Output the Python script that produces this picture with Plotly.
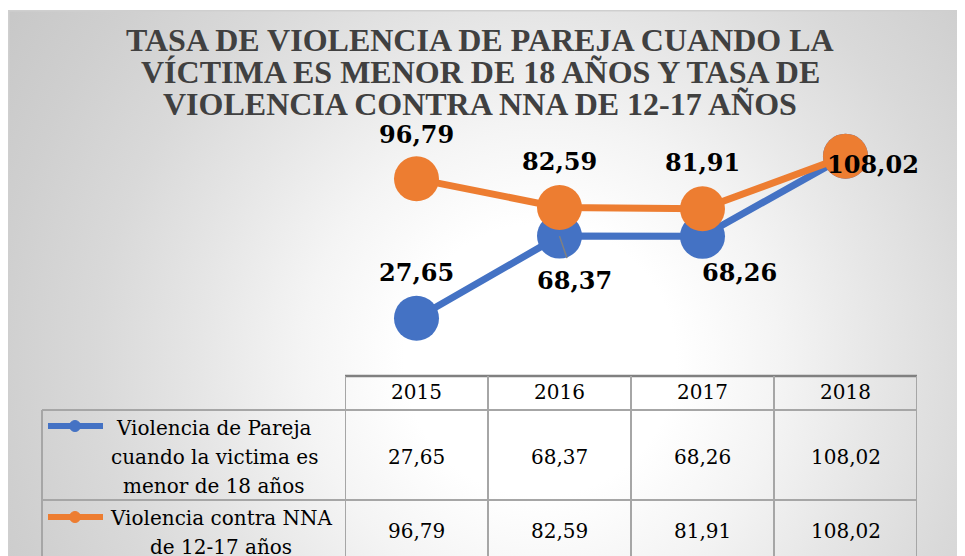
import base64
import plotly.graph_objects as go

# ---------------- data ----------------
years = ["2015", "2016", "2017", "2018"]
pareja = [27.65, 68.37, 68.26, 108.02]
nna = [96.79, 82.59, 81.91, 108.02]
series_names = [
    "Violencia de Pareja cuando la victima es menor de 18 años",
    "Violencia contra NNA de 12-17 años",
]
legend_lines = [
    ["Violencia de Pareja", "cuando la victima es", "menor de 18 años"],
    ["Violencia contra NNA", "de 12-17 años"],
]
title_lines = [
    "TASA DE VIOLENCIA DE PAREJA CUANDO LA",
    "VÍCTIMA ES MENOR DE 18 AÑOS Y TASA DE",
    "VIOLENCIA CONTRA NNA DE 12-17 AÑOS",
]

# ---------------- style ----------------
W, H = 965, 556
OX, OY = 8, 8          # page body margin offset
BLUE = "#4472C4"
ORANGE = "#ED7D31"
GRID = "#a6a6a6"
SERIF = "DejaVu Serif"

# label offsets (px) per point: (xshift, yshift) ; None = hidden
off_pareja = [(0, 46), (15, -44), (37, -36), None]
off_nna = [(0, 44), (0, 46), (0, 46), (27, -8)]


def px(x):
    return (x - OX) / W


def py(y):
    return 1 - (y - OY) / H


def fmt(v):
    return f"{v:.2f}".replace(".", ",")


idx = list(range(len(years)))

# ---------------- background gradient (svg) ----------------
svg = f'''<svg xmlns="http://www.w3.org/2000/svg" width="{W}" height="{H}" viewBox="0 0 {W} {H}">
<defs><radialGradient id="g" gradientUnits="userSpaceOnUse" cx="{540 - OX}" cy="{360 - OY}" r="680">
<stop offset="0" stop-color="#ffffff"/>
<stop offset="0.2" stop-color="#ffffff"/>
<stop offset="0.35" stop-color="#f4f4f4"/>
<stop offset="0.5" stop-color="#e6e6e6"/>
<stop offset="0.65" stop-color="#d9d9d9"/>
<stop offset="0.8" stop-color="#cfcfcf"/>
<stop offset="1" stop-color="#c4c4c4"/>
</radialGradient></defs>
<rect x="0" y="0" width="{W}" height="{H}" fill="#ffffff"/>
<rect x="0.75" y="2.75" width="{W + 20}" height="{H + 20}" fill="url(#g)" stroke="#cfcfcf" stroke-width="1.5"/>
</svg>'''
src = "data:image/svg+xml;base64," + base64.b64encode(svg.encode("utf-8")).decode("ascii")

fig = go.Figure()

fig.add_trace(go.Scatter(
    x=idx, y=pareja, mode="lines+markers", name=series_names[0],
    line=dict(color=BLUE, width=7), marker=dict(color=BLUE, size=45),
    cliponaxis=False, hoverinfo="skip",
))
fig.add_trace(go.Scatter(
    x=idx, y=nna, mode="lines+markers", name=series_names[1],
    line=dict(color=ORANGE, width=7), marker=dict(color=ORANGE, size=45),
    cliponaxis=False, hoverinfo="skip",
))

annotations = []
shapes = []

# title
for i, t in enumerate(title_lines):
    annotations.append(dict(
        text=t, x=px(480), y=py(40 + 32 * i), xref="paper", yref="paper",
        xanchor="center", yanchor="middle", showarrow=False, borderpad=0,
        font=dict(family="Liberation Serif", size=32, color="#404040", weight="bold"),
    ))

# data labels
label_font = dict(family=SERIF, size=24, color="#000000", weight="bold")
for k, (vals, offs) in enumerate(((pareja, off_pareja), (nna, off_nna))):
    for i, (v, o) in enumerate(zip(vals, offs)):
        if o is None:
            continue
        if k == 0 and i == 1:
            annotations.append(dict(
                text=fmt(v), x=i, y=v, xref="x", yref="y",
                xanchor="center", yanchor="middle",
                showarrow=True, arrowhead=0, arrowwidth=1.5, arrowcolor="#808080",
                ax=o[0], ay=-o[1], borderpad=7, font=label_font,
            ))
        else:
            annotations.append(dict(
                text=fmt(v), x=i, y=v, xref="x", yref="y", showarrow=False,
                xanchor="center", yanchor="middle",
                xshift=o[0], yshift=o[1], font=label_font,
            ))

# ---------------- data table ----------------
TOP, HDR, R1, BOT = 376, 410, 500, 570
LEFT = 42
line_gray = dict(color=GRID, width=2)

shapes.append(dict(type="line", xref="x", yref="paper", x0=-0.5, x1=len(years) - 0.5,
                   y0=py(TOP), y1=py(TOP), line=dict(color="#808080", width=2.5)))
for yy in (HDR, R1):
    shapes.append(dict(type="line", xref="paper", yref="paper", x0=px(LEFT), x1=px(917),
                       y0=py(yy), y1=py(yy), line=line_gray))
for i in range(len(years) + 1):
    shapes.append(dict(type="line", xref="x", yref="paper", x0=i - 0.5, x1=i - 0.5,
                       y0=py(TOP), y1=py(BOT), line=line_gray))
shapes.append(dict(type="line", xref="paper", yref="paper", x0=px(LEFT), x1=px(LEFT),
                   y0=py(HDR), y1=py(BOT), line=line_gray))

cell_font = dict(family=SERIF, size=20, color="#000000")
for i, yr in enumerate(years):
    annotations.append(dict(text=yr, x=i, y=py(392), xref="x", yref="paper",
                            xanchor="center", yanchor="middle",
                            showarrow=False, font=cell_font))
for vals, yc in ((pareja, 457), (nna, 531)):
    for i, v in enumerate(vals):
        annotations.append(dict(text=fmt(v), x=i, y=py(yc), xref="x", yref="paper",
                                xanchor="center", yanchor="middle",
                                showarrow=False, font=cell_font))

# legend keys inside the table
for color, yk, lines, ystart, xc in ((BLUE, 426, legend_lines[0], 428, 214),
                                    (ORANGE, 517, legend_lines[1], 518, 221)):
    shapes.append(dict(type="line", xref="paper", yref="paper", x0=px(48), x1=px(103),
                       y0=py(yk), y1=py(yk), line=dict(color=color, width=6)))
    r = 5.5
    shapes.append(dict(type="circle", xref="paper", yref="paper",
                       x0=px(75 - r), x1=px(75 + r), y0=py(yk - r), y1=py(yk + r),
                       fillcolor=color, line=dict(color=color, width=1)))
    for j, t in enumerate(lines):
        annotations.append(dict(text=t, x=px(xc), y=py(ystart + 29 * j), xref="paper",
                                yref="paper", xanchor="center", yanchor="middle",
                                showarrow=False, font=cell_font))

fig.update_layout(
    width=W, height=H, autosize=False,
    margin=dict(l=0, r=0, t=0, b=0, pad=0),
    paper_bgcolor="#ffffff", plot_bgcolor="rgba(0,0,0,0)",
    showlegend=False,
    xaxis=dict(range=[-0.5, len(years) - 0.5], domain=[px(345), px(917)],
               visible=False, showgrid=False, zeroline=False, fixedrange=True),
    yaxis=dict(range=[0, 120], domain=[py(374), py(132)], visible=False,
               showgrid=False, zeroline=False, fixedrange=True),
    images=[dict(source=src, xref="paper", yref="paper", x=0, y=1, sizex=1, sizey=1,
                 xanchor="left", yanchor="top", sizing="stretch", layer="below")],
    shapes=shapes,
    annotations=annotations,
)

fig.write_html("out.html")
